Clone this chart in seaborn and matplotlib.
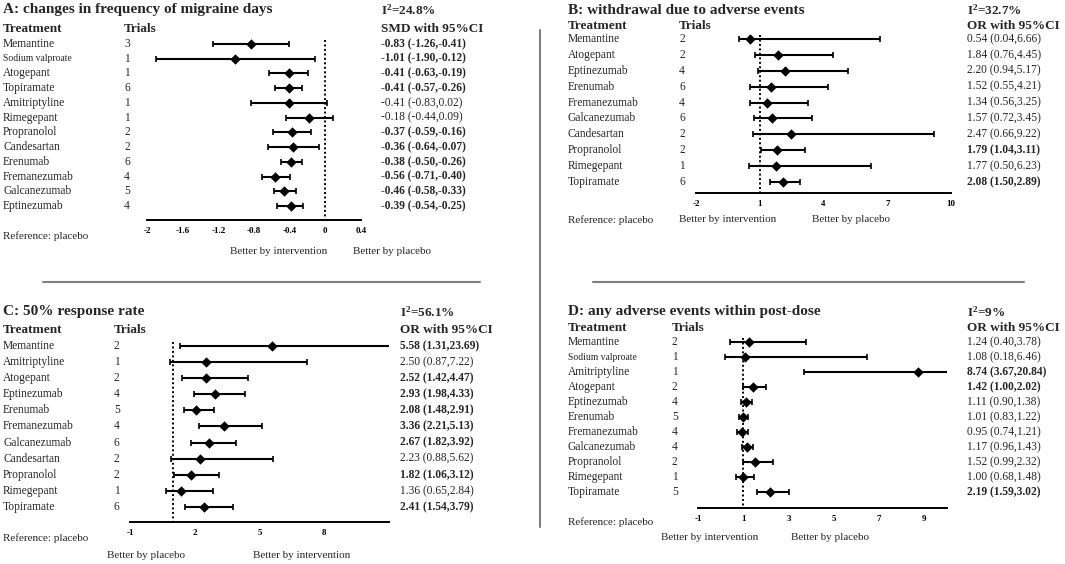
import numpy as np
import matplotlib
matplotlib.use('Agg')
import matplotlib.pyplot as plt
import matplotlib.transforms as mtransforms
from matplotlib.lines import Line2D
import seaborn as sns

sns.set_style('white')
plt.rcParams['font.family'] = ['Liberation Serif', 'DejaVu Serif']
plt.rcParams['mathtext.fontset'] = 'custom'
plt.rcParams['mathtext.rm'] = 'Liberation Serif'
plt.rcParams['mathtext.bf'] = 'Liberation Serif:bold'

W, H = 1065, 564

# ===== データ =====
# A: changes in frequency of migraine days (SMD)
a_treat = ['Memantine', 'Sodium valproate', 'Atogepant', 'Topiramate', 'Amitriptyline', 'Rimegepant',
           'Propranolol', 'Candesartan', 'Erenumab', 'Fremanezumab', 'Galcanezumab', 'Eptinezumab']
a_trials = [3, 1, 1, 6, 1, 1, 2, 2, 6, 4, 5, 4]
a_est = [-0.83, -1.01, -0.41, -0.41, -0.41, -0.18, -0.37, -0.36, -0.38, -0.56, -0.46, -0.39]
a_lo = [-1.26, -1.90, -0.63, -0.57, -0.83, -0.44, -0.59, -0.64, -0.50, -0.71, -0.58, -0.54]
a_hi = [-0.41, -0.12, -0.19, -0.26, 0.02, 0.09, -0.16, -0.07, -0.26, -0.40, -0.33, -0.25]

# B: withdrawal due to adverse events (OR)
b_treat = ['Memantine', 'Atogepant', 'Eptinezumab', 'Erenumab', 'Fremanezumab', 'Galcanezumab',
           'Candesartan', 'Propranolol', 'Rimegepant', 'Topiramate']
b_trials = [2, 2, 4, 6, 4, 6, 2, 2, 1, 6]
b_est = [0.54, 1.84, 2.20, 1.52, 1.34, 1.57, 2.47, 1.79, 1.77, 2.08]
b_lo = [0.04, 0.76, 0.94, 0.55, 0.56, 0.72, 0.66, 1.04, 0.50, 1.50]
b_hi = [6.66, 4.45, 5.17, 4.21, 3.25, 3.45, 9.22, 3.11, 6.23, 2.89]

# C: 50% response rate (OR)
c_treat = ['Memantine', 'Amitriptyline', 'Atogepant', 'Eptinezumab', 'Erenumab', 'Fremanezumab',
           'Galcanezumab', 'Candesartan', 'Propranolol', 'Rimegepant', 'Topiramate']
c_trials = [2, 1, 2, 4, 5, 4, 6, 2, 2, 1, 6]
c_est = [5.58, 2.50, 2.52, 2.93, 2.08, 3.36, 2.67, 2.23, 1.82, 1.36, 2.41]
c_lo = [1.31, 0.87, 1.42, 1.98, 1.48, 2.21, 1.82, 0.88, 1.06, 0.65, 1.54]
c_hi = [23.69, 7.22, 4.47, 4.33, 2.91, 5.13, 3.92, 5.62, 3.12, 2.84, 3.79]

# D: any adverse events within post-dose (OR)
d_treat = ['Memantine', 'Sodium valproate', 'Amitriptyline', 'Atogepant', 'Eptinezumab', 'Erenumab',
           'Fremanezumab', 'Galcanezumab', 'Propranolol', 'Rimegepant', 'Topiramate']
d_trials = [2, 1, 1, 2, 4, 5, 4, 4, 2, 1, 5]
d_est = [1.24, 1.08, 8.74, 1.42, 1.11, 1.01, 0.95, 1.17, 1.52, 1.00, 2.19]
d_lo = [0.40, 0.18, 3.67, 1.00, 0.90, 0.83, 0.74, 0.96, 0.99, 0.68, 1.59]
d_hi = [3.78, 6.46, 20.84, 2.02, 1.38, 1.22, 1.21, 1.43, 2.32, 1.48, 3.02]

a_ticks = [-2, -1.6, -1.2, -0.8, -0.4, 0, 0.4]
b_ticks = [-2, 1, 4, 7, 10]
c_ticks = [-1, 2, 5, 8]
d_ticks = [-1, 1, 3, 5, 7, 9]

i2 = ['24.8%', '32.7%', '56.1%', '9%']

# ===== レイアウト（ピクセル座標） =====
layouts = {
    'A': dict(title='A: changes in frequency of migraine days', tx=3, ty=10, i2x=381, head=29,
              first=44, last=206, axis=220, x0=147, x1=361, xlim=(-2, 0.4), ref=0, trx=124, rx=381,
              measure='SMD with 95%CI', refy=236, b1=('Better by intervention', 230),
              b2=('Better by placebo', 353), by=251),
    'B': dict(title='B: withdrawal due to adverse events', tx=568, ty=10, i2x=967, head=26,
              first=39, last=182, axis=193, x0=696, x1=951, xlim=(-2, 10), ref=1, trx=679, rx=967,
              measure='OR with 95%CI', refy=220, b1=('Better by intervention', 679),
              b2=('Better by placebo', 812), by=220),
    'C': dict(title='C: 50% response rate', tx=3, ty=312, i2x=400, head=330,
              first=346, last=507, axis=522, x0=130, x1=389, xlim=(-1, 11), ref=1, trx=114, rx=400,
              measure='OR with 95%CI', refy=538, b1=('Better by placebo', 107),
              b2=('Better by intervention', 253), by=555),
    'D': dict(title='D: any adverse events within post-dose', tx=568, ty=312, i2x=967, head=328,
              first=342, last=492, axis=508, x0=698, x1=947, xlim=(-1, 10), ref=1, trx=672, rx=967,
              measure='OR with 95%CI', refy=522, b1=('Better by intervention', 661),
              b2=('Better by placebo', 791), by=537),
}

fig = plt.figure(figsize=(W / 100, H / 100), dpi=100)


def fy(y):
    return 1 - y / H


def draw_panel(key, treat, trials, est, lo, hi, ticks, i2txt, smd):
    lay = layouts[key]
    n = len(treat)
    est = np.array(est)
    lo = np.array(lo)
    hi = np.array(hi)
    d = (lay['last'] - lay['first']) / (n - 1)
    y_top = lay['first'] - 0.6 * d
    ax = fig.add_axes([lay['x0'] / W, fy(lay['axis']), (lay['x1'] - lay['x0']) / W,
                       (lay['axis'] - y_top) / H])
    ybot = (lay['axis'] - lay['first']) / d
    rows = np.arange(n)

    # 信頼区間
    ax.errorbar(est, rows, xerr=[est - lo, hi - est], fmt='none', ecolor='black',
                elinewidth=1.5, capsize=2.4, capthick=1.2, zorder=2)
    # 点推定
    sns.scatterplot(x=est, y=rows, marker='D', color='black', s=28, linewidth=0, ax=ax, zorder=3)
    # 基準線
    ax.vlines(lay['ref'], -0.25, ybot, colors='black', linestyles=(0, (1, 1.3)), lw=1.4, zorder=1)

    ax.set_xlim(*lay['xlim'])
    ax.set_ylim(ybot, -0.6)
    ax.set_xticks(ticks)
    ax.set_xticklabels([f'{t:g}' for t in ticks], fontweight='bold', fontsize=6.5)
    ax.set_yticks([])
    ax.set_xlabel('')
    ax.set_ylabel('')
    for s in ['left', 'top', 'right']:
        ax.spines[s].set_visible(False)
    ax.spines['bottom'].set_linewidth(1.4)
    ax.spines['bottom'].set_color('black')
    ax.tick_params(axis='x', direction='out', length=3, width=1, pad=2, colors='black')
    ax.patch.set_alpha(0)

    tr = mtransforms.blended_transform_factory(fig.transFigure, ax.transData)
    for i in range(n):
        small = treat[i] == 'Sodium valproate'
        ax.text(lay['tx'] / W, i, treat[i], transform=tr, va='center', ha='left',
                fontsize=6.9 if small else 8.3)
        ax.text(lay['trx'] / W, i, str(trials[i]), transform=tr, va='center', ha='left', fontsize=8.3)
        sig = hi[i] < 0 if smd else lo[i] >= 1
        ax.text(lay['rx'] / W, i, f'{est[i]:.2f} ({lo[i]:.2f},{hi[i]:.2f})', transform=tr,
                va='center', ha='left', fontsize=8.3, fontweight='bold' if sig else 'normal')

    # 見出し
    fig.text(lay['tx'] / W, fy(lay['ty']), lay['title'], fontsize=11, fontweight='bold', va='center')
    fig.text(lay['i2x'] / W, fy(lay['ty']), r'$\mathbf{I^2}$=' + i2txt, fontsize=9.5,
             fontweight='bold', va='center')
    fig.text(lay['tx'] / W, fy(lay['head']), 'Treatment', fontsize=9.5, fontweight='bold', va='center')
    fig.text(lay['trx'] / W, fy(lay['head']), 'Trials', fontsize=9.5, fontweight='bold', va='center')
    fig.text(lay['rx'] / W, fy(lay['head']), lay['measure'], fontsize=9.5, fontweight='bold', va='center')
    fig.text(lay['tx'] / W, fy(lay['refy']), 'Reference: placebo', fontsize=8, va='center')
    fig.text(lay['b1'][1] / W, fy(lay['by']), lay['b1'][0], fontsize=8, va='center')
    fig.text(lay['b2'][1] / W, fy(lay['by']), lay['b2'][0], fontsize=8, va='center')


draw_panel('A', a_treat, a_trials, a_est, a_lo, a_hi, a_ticks, i2[0], True)
draw_panel('B', b_treat, b_trials, b_est, b_lo, b_hi, b_ticks, i2[1], False)
draw_panel('C', c_treat, c_trials, c_est, c_lo, c_hi, c_ticks, i2[2], False)
draw_panel('D', d_treat, d_trials, d_est, d_lo, d_hi, d_ticks, i2[3], False)

# 区切り線
sep = '#808080'
fig.add_artist(Line2D([43 / W, 480 / W], [fy(282), fy(282)], color=sep, lw=1.5, transform=fig.transFigure))
fig.add_artist(Line2D([593 / W, 1024 / W], [fy(282), fy(282)], color=sep, lw=1.5, transform=fig.transFigure))
fig.add_artist(Line2D([540 / W, 540 / W], [fy(30), fy(527)], color=sep, lw=1.5, transform=fig.transFigure))

fig.savefig('out.png', dpi=100, facecolor='white')
